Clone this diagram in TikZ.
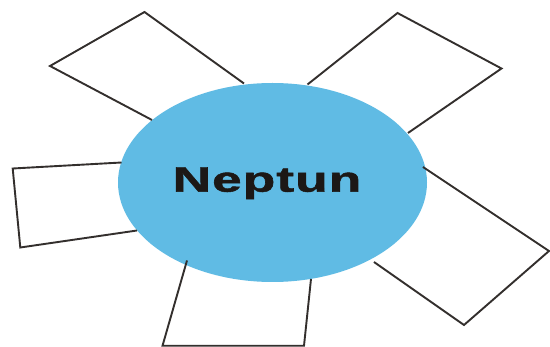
\documentclass[tikz,border=0pt]{standalone}
\usepackage{fontspec}
\setmainfont{Liberation Sans}
\usetikzlibrary{shapes.geometric}
\definecolor{planetblue}{RGB}{96,187,228}
\definecolor{inkdark}{RGB}{28,24,22}
\tikzset{
  frameline/.style={draw=inkdark!90, line width=1.9pt, line join=miter, line cap=butt},
  planetstyle/.style={ellipse, fill=planetblue, draw=none, inner sep=0pt,
     minimum width=309pt, minimum height=199pt},
  titlestyle/.style={text=inkdark, font=\bfseries\fontsize{35.5}{40}\selectfont\addfontfeatures{LetterSpace=2,FakeBold=1.2}, inner sep=0pt}
}
\begin{document}
\begin{tikzpicture}[x=1pt,y=-1pt]
\useasboundingbox (0,0) rectangle (550,347);
\fill[white] (0,0) rectangle (550,347);
% planet
\node[planetstyle] (planet) at (272.5,182.5) {};
% top-left box
\draw[frameline] (244,83.5) -- (144.5,12) -- (50,66) -- (152,120);
% top-right box
\draw[frameline] (307.5,84.5) -- (397.5,13) -- (501.5,68.5) -- (408,133);
% left box
\draw[frameline] (121.5,162.5) -- (12.7,168.5) -- (20.3,247.5) -- (137,230.5);
% bottom box
\draw[frameline] (187,260.5) -- (162.5,345.8) -- (304,345.8) -- (311,279);
% bottom-right box
\draw[frameline] (423,167) -- (549,251) -- (464,325) -- (374,262);
% title
\node[titlestyle, anchor=base] (title) at (267,191.7) {\scalebox{1.5}[1]{Neptun}};
\end{tikzpicture}
\end{document}
